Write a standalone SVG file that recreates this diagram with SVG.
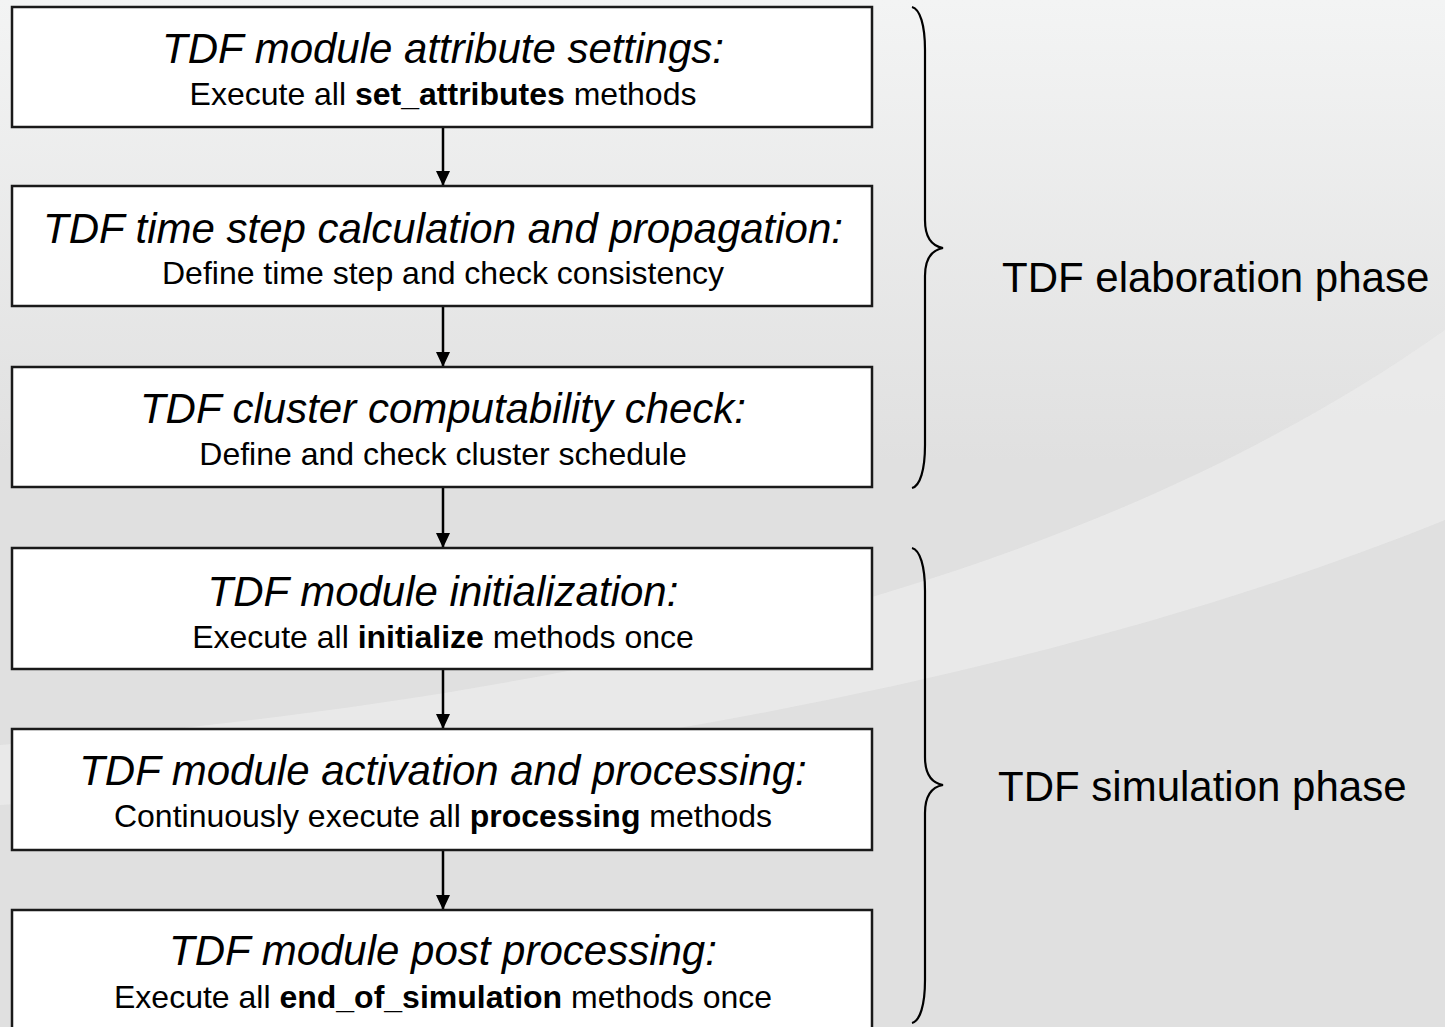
<svg xmlns="http://www.w3.org/2000/svg" width="1445" height="1027" viewBox="0 0 1445 1027">
  <defs>
    <linearGradient id="bg" x1="0" y1="0" x2="0" y2="1">
      <stop offset="0" stop-color="#f3f4f4"/>
      <stop offset="0.45" stop-color="#e0e0e0"/>
      <stop offset="1" stop-color="#e0e0e0"/>
    </linearGradient>
    <marker id="arrow" markerWidth="14" markerHeight="15" refX="15" refY="7" orient="auto" markerUnits="userSpaceOnUse">
      <path d="M0,0 L15,7 L0,14 Z" fill="#000"/>
    </marker>
    <style>
      .box { fill: #ffffff; stroke: #1a1a1a; stroke-width: 2.5; }
      .title { font-family: "Liberation Sans", Arial, sans-serif; font-style: italic; font-size: 42px; fill: #000; text-anchor: middle; }
      .sub { font-family: "Liberation Sans", Arial, sans-serif; font-size: 32px; fill: #000; text-anchor: middle; }
      .b { font-weight: bold; }
      .conn { stroke: #000; stroke-width: 2.5; fill: none; }
      .brace { stroke: #000; stroke-width: 2.2; fill: none; }
      .phase { font-family: "Liberation Sans", Arial, sans-serif; font-size: 42px; fill: #000; }
    </style>
  </defs>

  <rect width="1445" height="1027" fill="url(#bg)"/>
  <path d="M 0 745 C 500 705, 1050 610, 1445 330 L 1445 520 C 1100 660, 600 770, 0 805 Z" fill="#ebebeb" opacity="0.8"/>

  <g id="connectors">
    <line class="conn" x1="443" y1="127" x2="443" y2="186" marker-end="url(#arrow)"/>
    <line class="conn" x1="443" y1="306" x2="443" y2="367" marker-end="url(#arrow)"/>
    <line class="conn" x1="443" y1="487" x2="443" y2="548" marker-end="url(#arrow)"/>
    <line class="conn" x1="443" y1="669" x2="443" y2="729" marker-end="url(#arrow)"/>
    <line class="conn" x1="443" y1="850" x2="443" y2="910" marker-end="url(#arrow)"/>
  </g>

  <g id="node1">
    <rect class="box" x="12" y="7" width="860" height="120"/>
    <text class="title" x="443" y="63">TDF module attribute settings:</text>
    <text class="sub" x="443" y="105">Execute all <tspan class="b">set_attributes</tspan> methods</text>
  </g>
  <g id="node2">
    <rect class="box" x="12" y="186" width="860" height="120"/>
    <text class="title" x="443" y="243">TDF time step calculation and propagation:</text>
    <text class="sub" x="443" y="284">Define time step and check consistency</text>
  </g>
  <g id="node3">
    <rect class="box" x="12" y="367" width="860" height="120"/>
    <text class="title" x="443" y="423">TDF cluster computability check:</text>
    <text class="sub" x="443" y="465">Define and check cluster schedule</text>
  </g>
  <g id="node4">
    <rect class="box" x="12" y="548" width="860" height="121"/>
    <text class="title" x="443" y="606">TDF module initialization:</text>
    <text class="sub" x="443" y="648">Execute all <tspan class="b">initialize</tspan> methods once</text>
  </g>
  <g id="node5">
    <rect class="box" x="12" y="729" width="860" height="121"/>
    <text class="title" x="443" y="785">TDF module activation and processing:</text>
    <text class="sub" x="443" y="827">Continuously execute all <tspan class="b">processing</tspan> methods</text>
  </g>
  <g id="node6">
    <rect class="box" x="12" y="910" width="860" height="130"/>
    <text class="title" x="443" y="965">TDF module post processing:</text>
    <text class="sub" x="443" y="1008">Execute all <tspan class="b">end_of_simulation</tspan> methods once</text>
  </g>

  <g id="brace-elaboration">
    <path class="brace" d="M 912 7 C 920 9, 925 25, 925 50 L 925 220 C 925 238, 932 246, 943 248 C 932 250, 925 258, 925 276 L 925 445 C 925 470, 920 486, 912 488"/>
    <text class="phase" x="1002" y="292">TDF elaboration phase</text>
  </g>
  <g id="brace-simulation">
    <path class="brace" d="M 912 548 C 920 550, 925 566, 925 591 L 925 757 C 925 775, 932 783, 943 785 C 932 787, 925 795, 925 813 L 925 980 C 925 1005, 920 1021, 912 1023"/>
    <text class="phase" x="998" y="801">TDF simulation phase</text>
  </g>
</svg>
